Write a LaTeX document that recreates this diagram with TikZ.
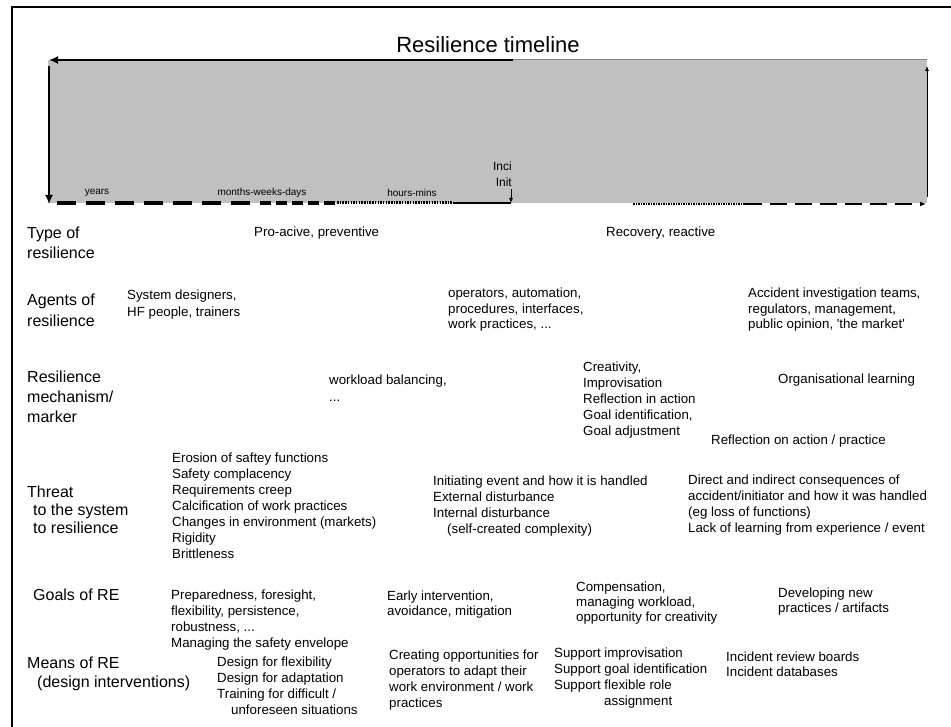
\documentclass[tikz,border=0pt]{standalone}
\usepackage{fontspec}
\setmainfont{Liberation Sans}
\usepackage{xcolor}
\usetikzlibrary{arrows.meta,calc,positioning}
\definecolor{boxgray}{RGB}{192,192,192}
\tikzset{
        rowlabel/.style = {anchor=north west, inner sep=0pt, align=left,
            font=\fontsize{16}{20}\selectfont},
        cell/.style = {anchor=north west, inner sep=0pt, align=left,
            font=\fontsize{13.3}{15.8}\selectfont},
        tick/.style = {inner sep=0pt, font=\fontsize{10}{12}\selectfont},
        bigarrow/.style = {draw, line width=2.5pt, -{Latex[length=9pt,width=8pt]}},
        smallarrow/.style = {draw, line width=0.8pt, -{Latex[length=5pt,width=4pt]}},
    }

\begin{document}
\begin{tikzpicture}[x=1pt,y=1pt,yscale=-1,xscale=1]
    \useasboundingbox (0,0) rectangle (951,727);
    \fill[white] (0,0) rectangle (951,727);

    % Frame
    \draw[line width=2pt] (951,7) -- (12,7) -- (12,727);

    % Title
    \node (title) at (488,45) [font=\fontsize{22}{26}\selectfont] {Resilience timeline};

    % Left part of the timeline
    \fill[boxgray] (48,60) rectangle (513,203);
    \coordinate (topR) at (513,60);
    \coordinate (topL) at (49,60);
    \coordinate (leftT) at (49,66);
    \coordinate (leftB) at (49,204);
    \draw[bigarrow] (topR) -- (topL);
    \draw[bigarrow] (leftT) -- (leftB);

    % Bottom scale, from years to minutes
    \coordinate (b0) at (57,203);
    \coordinate (b1) at (252,203);
    \coordinate (b2) at (260,203);
    \coordinate (b3) at (335,203);
    \coordinate (b4) at (337,203);
    \coordinate (b5) at (453,203);
    \coordinate (b6) at (511,203);
    \draw[line width=3.2pt, dash pattern=on 19pt off 10pt] (b0) -- (b1);
    \draw[line width=3.2pt, dash pattern=on 11pt off 5pt] (b2) -- (b3);
    \draw[line width=3pt, dash pattern=on 1.5pt off 1.2pt] (b4) -- (b5);
    \draw[line width=2pt] (b5) -- (b6);

    \node[tick] (years) at (97,193) {years};
    \node[tick] (months) at (262,193) {months-weeks-days};
    \node[tick] (hours) at (412,193) {hours-mins};

    % Incident / initiator marker
    \node[anchor=east, inner sep=0pt, font=\fontsize{12}{14}\selectfont] (inci) at (512,166) {Inci};
    \node[anchor=east, inner sep=0pt, font=\fontsize{12}{14}\selectfont] (init) at (512,182) {Init};
    \coordinate (incT) at (511,189);
    \coordinate (incB) at (511,203);
    \draw[smallarrow] (incT) -- (incB);

    % Right part of the timeline
    \fill[boxgray] (513,59) rectangle (927,203);
    \draw[gray, line width=0.8pt] (513,59.5) -- (927,59.5);
    \coordinate (r0) at (633,204);
    \coordinate (r1) at (745,204);
    \coordinate (r2) at (926,204);
    \coordinate (rightB) at (927,197);
    \coordinate (rightT) at (927,66);
    \draw[line width=1.5pt, dash pattern=on 1.5pt off 1pt] (r0) -- (r1);
    \draw[line width=1.5pt, dash pattern=on 17pt off 8pt, -{Latex[length=6pt,width=5pt]}] (r1) -- (r2);
    \draw[smallarrow] (rightB) -- (rightT);

    % Row labels
    \node[rowlabel] (typeL) at (27,227) {Type of\\resilience};
    \node[rowlabel, font=\fontsize{16}{21}\selectfont] (agentL) at (27,294) {Agents of\\resilience};
    \node[rowlabel] (mechL) at (27,371) {Resilience\\mechanism/\\marker};
    \node[rowlabel, font=\fontsize{16}{18}\selectfont] (threatL) at (27,486)
        {Threat\\\hspace*{6pt}to the system\\\hspace*{6pt}to resilience};
    \node[rowlabel] (goalL) at (33,589) {Goals of RE};
    \node[rowlabel, font=\fontsize{16}{19}\selectfont] (meansL) at (27,657)
        {Means of RE\\\hspace*{10pt}(design interventions)};

    % Type of resilience
    \node[cell] (proact) at (254,227) {Pro-acive, preventive};
    \node[cell] (recov) at (606,227) {Recovery, reactive};

    % Agents of resilience
    \node[cell, font=\fontsize{13.3}{16.5}\selectfont] (designers) at (127,290)
        {System designers,\\HF people, trainers};
    \node[cell, font=\fontsize{13.3}{15.5}\selectfont] (operators) at (448,288)
        {operators, automation,\\procedures, interfaces,\\work practices, ...};
    \node[cell, font=\fontsize{13.3}{15.5}\selectfont] (accident) at (748,288)
        {Accident investigation teams,\\regulators, management,\\public opinion, \textquotesingle the market\textquotesingle};

    % Resilience mechanism / marker
    \node[cell, font=\fontsize{13.3}{16.5}\selectfont] (workload) at (329,375) {workload balancing,\\...};
    \node[cell, font=\fontsize{13.3}{16}\selectfont] (creativity) at (583,362)
        {Creativity,\\Improvisation\\Reflection in action\\Goal identification,\\Goal adjustment};
    \node[cell] (orglearn) at (778,374) {Organisational learning};
    \node[cell] (reflect) at (711,435) {Reflection on action / practice};

    % Threat to the system
    \node[cell, font=\fontsize{13.3}{16}\selectfont] (erosion) at (172,453)
        {Erosion of saftey functions\\Safety complacency\\Requirements creep\\Calcification of work practices\\Changes in environment (markets)\\Rigidity\\Brittleness};
    \node[cell, font=\fontsize{13.3}{16}\selectfont] (initiating) at (433,476)
        {Initiating event and how it is handled\\External disturbance\\Internal disturbance\\\hspace*{14pt}(self-created complexity)};
    \node[cell, font=\fontsize{13.3}{16}\selectfont] (direct) at (688,475)
        {Direct and indirect consequences of\\accident/initiator and how it was handled\\(eg loss of functions)\\Lack of learning from experience / event};

    % Goals of RE
    \node[cell] (prepared) at (171,590)
        {Preparedness, foresight,\\flexibility, persistence,\\robustness, ...\\Managing the safety envelope};
    \node[cell, font=\fontsize{13.3}{15}\selectfont] (early) at (387,591) {Early intervention,\\avoidance, mitigation};
    \node[cell, font=\fontsize{13.3}{15}\selectfont] (compens) at (576,582)
        {Compensation,\\managing workload,\\opportunity for creativity};
    \node[cell, font=\fontsize{13.3}{15}\selectfont] (developing) at (778,588) {Developing new\\practices / artifacts};

    % Means of RE
    \node[cell, font=\fontsize{13.3}{16}\selectfont] (designfor) at (217,657)
        {Design for flexibility\\Design for adaptation\\Training for difficult /\\\hspace*{14pt}unforeseen situations};
    \node[cell, font=\fontsize{13.3}{16}\selectfont] (creating) at (389,650)
        {Creating opportunities for\\operators to adapt their\\work environment / work\\practices};
    \node[cell] (support) at (554,648)
        {Support improvisation\\Support goal identification\\Support flexible role\\\hspace*{50pt}assignment};
    \node[cell, font=\fontsize{13.3}{15}\selectfont] (incident) at (726,652) {Incident review boards\\Incident databases};

\end{tikzpicture}
\end{document}
